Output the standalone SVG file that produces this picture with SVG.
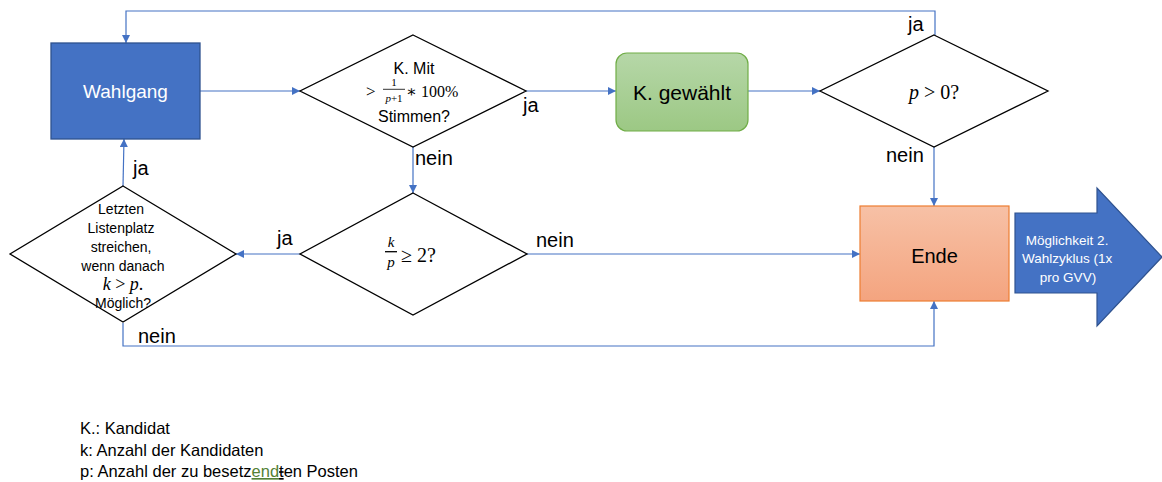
<svg xmlns="http://www.w3.org/2000/svg" width="1162" height="482" viewBox="0 0 1162 482">
<style>
.lbl{font-family:"Liberation Sans",Arial,sans-serif;font-size:20px;fill:#000}
.sans{font-family:"Liberation Sans",Arial,sans-serif;fill:#000}
.math{font-family:"Liberation Serif","DejaVu Serif",serif;fill:#000}
.it{font-style:italic}
.dia{fill:#fff;stroke:#000;stroke-width:1.3}
.con{fill:none;stroke:#4472c4;stroke-width:1.2}
.legend{font-family:"Liberation Sans",Arial,sans-serif;font-size:16.5px;fill:#000}
</style>
<defs>
<marker id="arr" viewBox="0 0 10 10" refX="10" refY="5" markerWidth="9" markerHeight="8" markerUnits="userSpaceOnUse" orient="auto">
<path d="M0,0 L10,5 L0,10 z" fill="#4472c4"/>
</marker>
<linearGradient id="gGreen" x1="0" y1="0" x2="0" y2="1">
<stop offset="0" stop-color="#b6d7a8"/>
<stop offset="1" stop-color="#9cc884"/>
</linearGradient>
<linearGradient id="gOrange" x1="0" y1="0" x2="0" y2="1">
<stop offset="0" stop-color="#f7c1a6"/>
<stop offset="1" stop-color="#f4a47f"/>
</linearGradient>
</defs>

<g id="connectors">
<path class="con" d="M935,35 V11 H126 V43" marker-end="url(#arr)"/>
<path class="con" d="M200,91 H300" marker-end="url(#arr)"/>
<path class="con" d="M526,91 H616" marker-end="url(#arr)"/>
<path class="con" d="M748,91 H820" marker-end="url(#arr)"/>
<path class="con" d="M934,147 V206" marker-end="url(#arr)"/>
<path class="con" d="M413,147 V193" marker-end="url(#arr)"/>
<path class="con" d="M300,254 H236" marker-end="url(#arr)"/>
<path class="con" d="M527,254 H860" marker-end="url(#arr)"/>
<path class="con" d="M123,186 L124,139" marker-end="url(#arr)"/>
<path class="con" d="M123,323 V346 H934 V301" marker-end="url(#arr)"/>
<text class="lbl" x="908" y="31">ja</text>
<text class="lbl" x="523" y="112">ja</text>
<text class="lbl" x="415" y="165">nein</text>
<text class="lbl" x="886" y="162">nein</text>
<text class="lbl" x="133" y="175">ja</text>
<text class="lbl" x="277" y="245">ja</text>
<text class="lbl" x="536" y="247">nein</text>
<text class="lbl" x="138" y="343">nein</text>
</g>

<g id="wahlgang">
<rect x="51" y="43" width="149" height="96" fill="#4472c4" stroke="#2f528f" stroke-width="1.3"/>
<text class="sans" x="125.5" y="98" font-size="19" style="fill:#fff" text-anchor="middle">Wahlgang</text>
</g>

<g id="kmit">
<polygon class="dia" points="413,35 526,91 413,147 300,91"/>
<text class="sans" x="414" y="74" font-size="16" text-anchor="middle">K. Mit</text>
<text class="math" x="366" y="97" font-size="17">&gt;</text>
<text class="math" x="394" y="86" font-size="11" text-anchor="middle">1</text>
<line x1="383" y1="89.3" x2="405" y2="89.3" stroke="#000" stroke-width="0.8"/>
<text class="math" x="394" y="102" font-size="11" text-anchor="middle"><tspan class="it">p</tspan>+1</text>
<text class="math" x="406" y="97" font-size="16">∗ 100%</text>
<text class="sans" x="414" y="122" font-size="16" text-anchor="middle">Stimmen?</text>
</g>

<g id="gewaehlt">
<rect x="616" y="53" width="132" height="78" rx="11" ry="11" fill="url(#gGreen)" stroke="#70ad47" stroke-width="1.2"/>
<text class="sans" x="682" y="100" font-size="21" text-anchor="middle">K. gewählt</text>
</g>

<g id="pgt0">
<polygon class="dia" points="934,35 1048,91 934,147 820,91"/>
<text class="math" x="934" y="99" font-size="20" text-anchor="middle"><tspan class="it">p</tspan> &gt; 0?</text>
</g>

<g id="kp">
<polygon class="dia" points="413,193 527,254 413,315 300,254"/>
<text class="math it" x="391" y="247" font-size="15" text-anchor="middle">k</text>
<line x1="385" y1="251.7" x2="397" y2="251.7" stroke="#000" stroke-width="1.3"/>
<text class="math it" x="391" y="267" font-size="15" text-anchor="middle">p</text>
<text class="math" x="401" y="262" font-size="20">≥ 2?</text>
</g>

<g id="letzten">
<polygon class="dia" points="123,186 236,254 123,322 10,254"/>
<text class="sans" font-size="14" text-anchor="middle">
<tspan x="123" y="214">Letzten</tspan>
<tspan x="123" y="233">Listenplatz</tspan>
<tspan x="123" y="252">streichen,</tspan>
<tspan x="123" y="271">wenn danach</tspan>
</text>
<text class="math" x="123" y="290" font-size="18" text-anchor="middle"><tspan class="it">k</tspan> &gt; <tspan class="it">p</tspan>.</text>
<text class="sans" x="123" y="308" font-size="14" text-anchor="middle">Möglich?</text>
</g>

<g id="ende">
<rect x="860" y="206" width="149" height="95" fill="url(#gOrange)" stroke="#ed7d31" stroke-width="1.2"/>
<text class="sans" x="934.5" y="263" font-size="20" text-anchor="middle">Ende</text>
</g>

<g id="zyklus">
<polygon points="1015,213 1097,213 1097,188 1162,257 1097,326 1097,293 1015,293" fill="#4472c4" stroke="#2f528f" stroke-width="1.2"/>
<text class="sans" font-size="13.5" text-anchor="middle" style="fill:#fff">
<tspan x="1069" y="245">Möglichkeit 2.</tspan>
<tspan x="1069" y="263">Wahlzyklus (1x</tspan>
<tspan x="1068" y="282">pro GVV)</tspan>
</text>
</g>

<g id="legend">
<text class="legend" x="80" y="434">K.: Kandidat</text>
<text class="legend" x="80" y="456">k: Anzahl der Kandidaten</text>
<text class="legend" x="80" y="477">p: Anzahl der zu besetz<tspan fill="#538135" text-decoration="underline">end</tspan><tspan text-decoration="underline line-through">t</tspan>en Posten</text>
</g>
</svg>
